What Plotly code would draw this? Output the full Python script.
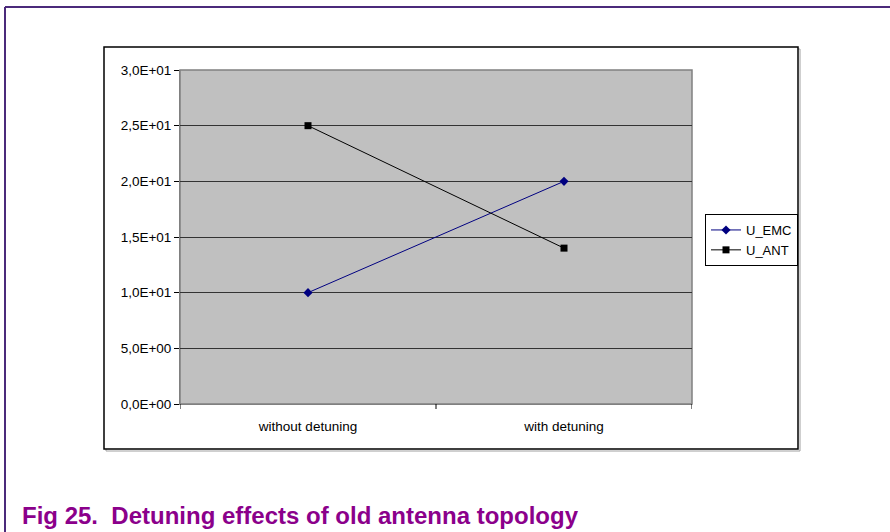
import plotly.graph_objects as go

categories = ["without detuning", "with detuning"]
u_emc = [10, 20]
u_ant = [25, 14]
y_ticks = [0, 5, 10, 15, 20, 25, 30]
y_tick_labels = ["0,0E+00", "5,0E+00", "1,0E+01", "1,5E+01", "2,0E+01", "2,5E+01", "3,0E+01"]
caption = "Fig 25.  Detuning effects of old antenna topology"

W, H = 890, 532
L, R, T, B = 180, 692, 70, 404

def px(x):
    return (x - L) / (R - L)

def py(y):
    return (B - y) / (B - T)

fig = go.Figure()
fig.add_trace(go.Scatter(
    x=[0, 1], y=u_emc, name="U_EMC", mode="lines+markers",
    line=dict(color="#000080", width=1),
    marker=dict(symbol="diamond", size=7, color="#000080"),
))
fig.add_trace(go.Scatter(
    x=[0, 1], y=u_ant, name="U_ANT", mode="lines+markers",
    line=dict(color="#000000", width=1),
    marker=dict(symbol="square", size=7, color="#000000"),
))

shapes = [
    # purple frame
    dict(type="line", xref="paper", yref="paper", x0=px(5), x1=px(890), y0=py(7), y1=py(7),
         line=dict(color="#4B2A7B", width=2)),
    dict(type="line", xref="paper", yref="paper", x0=px(5), x1=px(5), y0=py(7), y1=py(532),
         line=dict(color="#4B2A7B", width=2)),
    # shadow of chart box
    dict(type="rect", xref="paper", yref="paper", x0=px(106), x1=px(800), y0=py(49), y1=py(451),
         line=dict(color="#A0A0A0", width=1), layer="below"),
    # chart box
    dict(type="rect", xref="paper", yref="paper", x0=px(104), x1=px(798), y0=py(47), y1=py(449),
         line=dict(color="#000000", width=1.5), fillcolor="white", layer="below"),
    # plot area fill
    dict(type="rect", xref="paper", yref="paper", x0=0, x1=1, y0=0, y1=1,
         line=dict(color="#808080", width=1.5), fillcolor="#C0C0C0", layer="below"),
]
# x-axis category ticks
for xv in [-0.5, 0.5, 1.5]:
    shapes.append(dict(type="line", xref="x", yref="paper", x0=xv, x1=xv, y0=0, y1=py(409),
                       line=dict(color="#000000", width=1)))

fig.update_layout(
    width=W, height=H,
    margin=dict(l=L, r=W - R, t=T, b=H - B),
    paper_bgcolor="white",
    plot_bgcolor="rgba(0,0,0,0)",
    font=dict(family="Liberation Sans, Arial", size=13.5, color="#000000"),
    shapes=shapes,
    showlegend=True,
    legend=dict(
        x=px(705), y=py(214), xanchor="left", yanchor="top",
        bgcolor="white", bordercolor="#000000", borderwidth=1,
        font=dict(size=13), tracegroupgap=0, itemwidth=30,
    ),
    xaxis=dict(
        range=[-0.5, 1.5], tickmode="array", tickvals=[0, 1], ticktext=categories,
        showgrid=False, zeroline=False, showline=True, linecolor="#808080",
        ticks="", ticklen=0, fixedrange=True, ticklabelstandoff=10,
    ),
    yaxis=dict(
        range=[0, 30], tickmode="array", tickvals=y_ticks, ticktext=y_tick_labels,
        showgrid=True, gridcolor="#333333", gridwidth=1, zeroline=False,
        showline=True, linecolor="#808080", ticks="outside", ticklen=5,
        tickcolor="#000000", fixedrange=True,
    ),
    annotations=[dict(
        text="<b>" + caption + "</b>", xref="paper", yref="paper",
        x=px(20), y=py(515), xanchor="left", yanchor="middle", showarrow=False,
        font=dict(family="Liberation Sans, Arial", size=24, color="#8B008B"),
    )],
)

fig.write_html("out.html")
